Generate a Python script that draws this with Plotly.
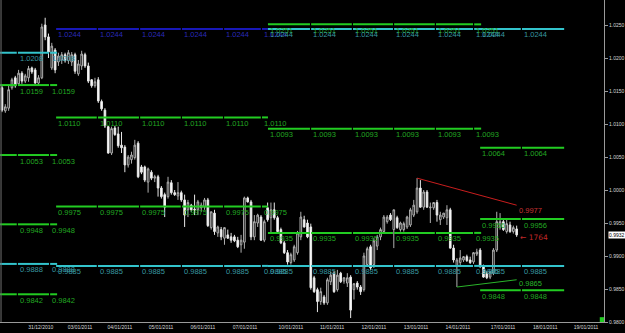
import plotly.graph_objects as go

# ---------------- candle data (H2-style bars, index = bar number) ----------------
open_ = [1.0155, 1.0120, 1.0124, 1.0155, 1.0170, 1.0161, 1.0177, 1.0165, 1.0170, 1.0185,
         1.0182, 1.0162, 1.0170, 1.0250, 1.0232, 1.0185, 1.0212, 1.0194, 1.0197, 1.0205,
         1.0196, 1.0194, 1.0205, 1.0176, 1.0188, 1.0205, 1.0188, 1.0167, 1.0158, 1.0167,
         1.0134, 1.0121, 1.0096, 1.0056, 1.0094, 1.0085, 1.0068, 1.0065, 1.0038, 1.0046,
         1.0049, 1.0071, 1.0035, 1.0035, 1.0012, 1.0027, 1.0018, 1.0020, 1.0003, 0.9993,
         0.9990, 1.0011, 0.9996, 0.9991, 0.9996, 0.9985, 0.9970, 0.9977, 0.9971, 0.9970,
         0.9973, 0.9974, 0.9985, 0.9943, 0.9965, 0.9935, 0.9940, 0.9927, 0.9932, 0.9929,
         0.9929, 0.9924, 0.9917, 0.9921, 0.9988, 0.9982, 0.9929, 0.9950, 0.9959, 0.9924,
         0.9973, 0.9958, 0.9970, 0.9958, 0.9940, 0.9920, 0.9905, 0.9890, 0.9894, 0.9905,
         0.9929, 0.9955, 0.9950, 0.9944, 0.9867, 0.9849, 0.9831, 0.9838, 0.9829, 0.9861,
         0.9874, 0.9849, 0.9874, 0.9862, 0.9859, 0.9868, 0.9849, 0.9859, 0.9853, 0.9849,
         0.9887, 0.9914, 0.9887, 0.9915, 0.9929, 0.9937, 0.9952, 0.9962, 0.9940, 0.9958,
         0.9940, 0.9940, 0.9944, 0.9947, 0.9962, 0.9967, 1.0003, 0.9974, 0.9997, 0.9973,
         0.9973, 0.9981, 0.9955, 0.9959, 0.9958, 0.9970, 0.9912, 0.9884, 0.9890, 0.9894,
         0.9899, 0.9894, 0.9891, 0.9903, 0.9909, 0.9884, 0.9874, 0.9868, 0.9874, 0.9909,
         0.9944, 0.9952, 0.9937, 0.9947, 0.9937, 0.9941]
high = [1.0159, 1.0130, 1.0158, 1.0170, 1.0173, 1.0182, 1.0180, 1.0176, 1.0188, 1.0187,
        1.0185, 1.0174, 1.0252, 1.0261, 1.0237, 1.0223, 1.0215, 1.0208, 1.0209, 1.0208,
        1.0212, 1.0209, 1.0208, 1.0197, 1.0211, 1.0208, 1.0193, 1.0168, 1.0170, 1.0171,
        1.0137, 1.0124, 1.0097, 1.0096, 1.0097, 1.0096, 1.0088, 1.0068, 1.0053, 1.0058,
        1.0076, 1.0074, 1.0038, 1.0037, 1.0034, 1.0030, 1.0023, 1.0023, 1.0006, 0.9996,
        1.0020, 1.0015, 1.0000, 1.0012, 0.9999, 0.9993, 0.9985, 0.9979, 0.9993, 0.9985,
        0.9981, 0.9988, 0.9988, 0.9967, 0.9970, 0.9946, 0.9944, 0.9943, 0.9940, 0.9935,
        0.9932, 0.9929, 0.9932, 0.9990, 0.9990, 0.9985, 0.9962, 0.9964, 0.9962, 0.9955,
        0.9981, 0.9981, 0.9981, 0.9961, 0.9943, 0.9923, 0.9909, 0.9905, 0.9917, 0.9938,
        0.9967, 0.9961, 0.9955, 0.9949, 0.9870, 0.9852, 0.9852, 0.9841, 0.9867, 0.9876,
        0.9877, 0.9879, 0.9876, 0.9868, 0.9874, 0.9871, 0.9859, 0.9862, 0.9856, 0.9905,
        0.9914, 0.9917, 0.9927, 0.9932, 0.9943, 0.9962, 0.9962, 0.9965, 0.9970, 0.9961,
        0.9952, 0.9952, 0.9961, 0.9973, 0.9985, 1.0018, 1.0015, 1.0000, 1.0000, 0.9981,
        0.9981, 0.9985, 0.9967, 0.9965, 0.9977, 0.9973, 0.9917, 0.9897, 0.9909, 0.9900,
        0.9902, 0.9899, 0.9906, 0.9911, 0.9912, 0.9887, 0.9877, 0.9877, 0.9912, 0.9967,
        0.9965, 0.9955, 0.9955, 0.9952, 0.9946, 0.9946]
low = [1.0118, 1.0117, 1.0120, 1.0152, 1.0155, 1.0158, 1.0161, 1.0162, 1.0164, 1.0176,
       1.0161, 1.0159, 1.0168, 1.0227, 1.0200, 1.0182, 1.0177, 1.0188, 1.0191, 1.0193,
       1.0191, 1.0188, 1.0176, 1.0173, 1.0182, 1.0185, 1.0162, 1.0155, 1.0155, 1.0132,
       1.0120, 1.0094, 1.0055, 1.0053, 1.0082, 1.0064, 1.0056, 1.0027, 1.0034, 1.0040,
       1.0046, 1.0018, 1.0024, 1.0012, 0.9996, 1.0015, 1.0012, 0.9990, 0.9987, 0.9959,
       0.9987, 0.9993, 0.9991, 0.9985, 0.9982, 0.9944, 0.9959, 0.9967, 0.9962, 0.9962,
       0.9967, 0.9970, 0.9944, 0.9940, 0.9932, 0.9929, 0.9924, 0.9917, 0.9926, 0.9920,
       0.9921, 0.9912, 0.9905, 0.9911, 0.9981, 0.9924, 0.9924, 0.9944, 0.9923, 0.9921,
       0.9952, 0.9935, 0.9955, 0.9935, 0.9918, 0.9903, 0.9887, 0.9887, 0.9891, 0.9902,
       0.9924, 0.9943, 0.9927, 0.9849, 0.9844, 0.9815, 0.9826, 0.9826, 0.9826, 0.9856,
       0.9844, 0.9846, 0.9859, 0.9858, 0.9853, 0.9806, 0.9834, 0.9849, 0.9841, 0.9846,
       0.9884, 0.9879, 0.9882, 0.9909, 0.9924, 0.9934, 0.9949, 0.9953, 0.9912, 0.9941,
       0.9937, 0.9937, 0.9941, 0.9944, 0.9959, 0.9964, 0.9973, 0.9970, 0.9973, 0.9950,
       0.9970, 0.9952, 0.9947, 0.9956, 0.9947, 0.9911, 0.9890, 0.9853, 0.9885, 0.9891,
       0.9891, 0.9888, 0.9888, 0.9900, 0.9882, 0.9867, 0.9865, 0.9865, 0.9871, 0.9906,
       0.9940, 0.9938, 0.9934, 0.9935, 0.9934, 0.9929]
close = [1.0121, 1.0126, 1.0152, 1.0167, 1.0158, 1.0177, 1.0165, 1.0173, 1.0184, 1.0179,
         1.0162, 1.0170, 1.0247, 1.0232, 1.0209, 1.0218, 1.0182, 1.0203, 1.0205, 1.0196,
         1.0208, 1.0205, 1.0180, 1.0191, 1.0206, 1.0188, 1.0165, 1.0158, 1.0164, 1.0135,
         1.0123, 1.0097, 1.0056, 1.0093, 1.0084, 1.0067, 1.0064, 1.0038, 1.0050, 1.0053,
         1.0068, 1.0020, 1.0027, 1.0015, 1.0032, 1.0018, 1.0020, 1.0003, 0.9990, 0.9974,
         1.0012, 0.9996, 0.9993, 0.9996, 0.9985, 0.9962, 0.9981, 0.9970, 0.9970, 0.9982,
         0.9977, 0.9985, 0.9946, 0.9967, 0.9937, 0.9944, 0.9929, 0.9943, 0.9927, 0.9924,
         0.9923, 0.9914, 0.9924, 0.9988, 0.9982, 0.9929, 0.9952, 0.9962, 0.9924, 0.9952,
         0.9955, 0.9970, 0.9958, 0.9937, 0.9920, 0.9905, 0.9891, 0.9902, 0.9914, 0.9935,
         0.9959, 0.9944, 0.9929, 0.9852, 0.9846, 0.9831, 0.9846, 0.9829, 0.9864, 0.9871,
         0.9846, 0.9871, 0.9861, 0.9867, 0.9867, 0.9818, 0.9858, 0.9853, 0.9846, 0.9900,
         0.9911, 0.9882, 0.9923, 0.9929, 0.9940, 0.9959, 0.9959, 0.9955, 0.9970, 0.9943,
         0.9950, 0.9949, 0.9959, 0.9970, 0.9977, 1.0003, 0.9974, 0.9997, 0.9974, 0.9974,
         0.9981, 0.9962, 0.9962, 0.9965, 0.9970, 0.9912, 0.9894, 0.9894, 0.9897, 0.9899,
         0.9893, 0.9890, 0.9905, 0.9906, 0.9884, 0.9868, 0.9867, 0.9876, 0.9909, 0.9952,
         0.9952, 0.9940, 0.9949, 0.9937, 0.9943, 0.9932]
bars = list(range(len(open_)))

# ---------------- axis labels ----------------
date_labels = ["31/12/2010", "03/01/2011", "04/01/2011", "05/01/2011", "06/01/2011",
               "07/01/2011", "10/01/2011", "11/01/2011", "12/01/2011", "13/01/2011",
               "14/01/2011", "17/01/2011", "18/01/2011", "19/01/2011"]
date_label_bars = [11.7, 23.5, 35.5, 47.9, 60.5, 73.2, 87.0, 99.4, 112.0, 124.7,
                   137.3, 150.9, 163.6, 175.9]
price_ticks = [0.9800, 0.9850, 0.9900, 0.9950, 1.0000, 1.0050, 1.0100, 1.0150, 1.0200, 1.0250]

# ---------------- pivot-type levels per period ----------------
period_line_start = [-1.0, 16.3, 80.1, 144.0]
period_label_bars = [[4.8, 14.5],
                     [16.3, 28.9, 41.6, 54.2, 66.9, 78.3],
                     [80.1, 93.1, 105.7, 118.1, 130.7, 142.2],
                     [144.0, 156.6]]
period_end_bars = [16.6, 80.1, 144.3, 169.3]
period_levels = [[1.0208, 1.0159, 1.0053, 0.9948, 0.9888, 0.9842],
                 [1.0244, 1.0110, 0.9975, 0.9885],
                 [1.0251, 1.0244, 1.0093, 0.9935, 0.9885],
                 [1.0244, 1.0064, 0.9956, 0.9885, 0.9848]]
period_kinds = [["cyan", "green", "green", "green", "cyan", "green"],
                ["blue", "green", "green", "cyan"],
                ["green", "cyan", "green", "green", "cyan"],
                ["cyan", "green", "green", "cyan", "green"]]

# trend lines
resist_bars = [125, 155]
resist_vals = [1.0018, 0.9977]
resist_label = "0.9977"
support_bars = [137, 155]
support_vals = [0.9853, 0.9864]
support_label = "0.9865"
arrow_label = "← 1764"
last_price = "0.9932"

LINE_COL = {"green": "#22cc22", "cyan": "#33c4cc", "blue": "#1818b8"}
TEXT_COL = {"green": "#22a822", "cyan": "#3898a0", "blue": "#2a2ab8"}

fig = go.Figure()
fig.add_trace(go.Candlestick(
    x=bars, open=open_, high=high, low=low, close=close,
    increasing=dict(line=dict(color="#b0b0b0", width=1), fillcolor="#000000"),
    decreasing=dict(line=dict(color="#e8e8e8", width=1), fillcolor="#ffffff"),
    whiskerwidth=0, showlegend=False, hoverinfo="skip"))

annotations = []
seg = {k: ([], []) for k in LINE_COL}
gap = 0.35
for p in range(len(period_levels)):
    starts = [period_line_start[p]] + [s for s in period_label_bars[p] if s > period_line_start[p] + 0.01]
    ends = [s - gap for s in starts[1:]] + [period_end_bars[p]]
    for lv, kind in zip(period_levels[p], period_kinds[p]):
        xs, ys = seg[kind]
        for a, b in zip(starts, ends):
            xs += [a, b, None]
            ys += [lv, lv, None]
        for s in period_label_bars[p]:
            annotations.append(dict(x=s, y=lv, text=f"{lv:.4f}", showarrow=False,
                                    xanchor="left", yanchor="middle", xshift=0, yshift=-6,
                                    font=dict(size=7.5, color=TEXT_COL[kind], family="Liberation Sans")))

for kind in ["blue", "green", "cyan"]:
    xs, ys = seg[kind]
    fig.add_trace(go.Scatter(x=xs, y=ys, mode="lines", line=dict(color=LINE_COL[kind], width=2),
                             showlegend=False, hoverinfo="skip"))

fig.add_trace(go.Scatter(x=resist_bars, y=resist_vals, mode="lines",
                         line=dict(color="#c81e1e", width=1), showlegend=False, hoverinfo="skip"))
fig.add_trace(go.Scatter(x=support_bars, y=support_vals, mode="lines",
                         line=dict(color="#2ab42a", width=1), showlegend=False, hoverinfo="skip"))

annotations.append(dict(x=resist_bars[-1], y=resist_vals[-1], text=resist_label, showarrow=False,
                        xanchor="left", yanchor="middle", xshift=0, yshift=-5,
                        font=dict(size=7.5, color="#c83232", family="Liberation Sans")))
annotations.append(dict(x=support_bars[-1], y=support_vals[-1], text=support_label, showarrow=False,
                        xanchor="left", yanchor="middle", xshift=0, yshift=-4,
                        font=dict(size=7.5, color="#2ab42a", family="Liberation Sans")))
annotations.append(dict(x=bars[-1], y=close[-1], text=arrow_label, showarrow=False,
                        xanchor="left", yanchor="middle", xshift=1, yshift=-3,
                        font=dict(size=7.5, color="#c02828", family="DejaVu Sans")))
annotations.append(dict(x=1, xref="paper", y=float(last_price), text=last_price, showarrow=False,
                        xanchor="left", yanchor="middle", xshift=4, bgcolor="#ffffff",
                        borderpad=0, font=dict(size=5, color="#000000", family="Liberation Sans")))

shapes = [dict(type="line", xref="paper", yref="paper", x0=0.0017, x1=0.0017, y0=0, y1=1,
               line=dict(color="#707070", width=1)),
          dict(type="rect", xref="paper", yref="paper", x0=0.993, x1=1.0, y0=0.0, y1=0.015,
               fillcolor="#22cc22", line=dict(width=0))]

fig.update_layout(
    width=625, height=333,
    margin=dict(l=0, r=21, t=0, b=11),
    paper_bgcolor="#000000", plot_bgcolor="#000000",
    annotations=annotations, shapes=shapes,
    xaxis=dict(range=[-0.6, 181.3], rangeslider=dict(visible=False), showgrid=False, zeroline=False,
               tickvals=date_label_bars, ticktext=date_labels, ticks="",
               tickfont=dict(size=5, color="#d8d8d8", family="Liberation Sans"),
               showline=True, linecolor="#9a9a9a", linewidth=1),
    yaxis=dict(range=[0.9800, 1.02879], side="right", showgrid=False, zeroline=False,
               tickvals=price_ticks, ticktext=[f"{v:.4f}" for v in price_ticks],
               ticks="outside", ticklen=3, tickcolor="#9a9a9a",
               tickfont=dict(size=5, color="#d8d8d8", family="Liberation Sans"),
               showline=True, linecolor="#9a9a9a", linewidth=1),
)

fig.write_html("out.html")
